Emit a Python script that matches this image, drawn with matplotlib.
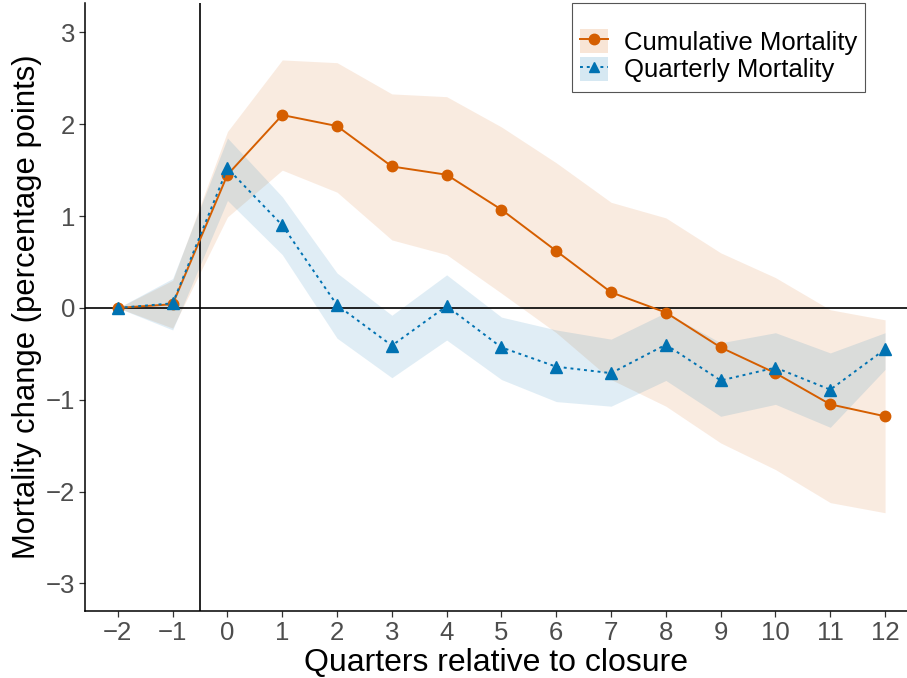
import matplotlib
matplotlib.use("Agg")
import matplotlib.pyplot as plt
from matplotlib.lines import Line2D
from matplotlib.patches import Patch, Rectangle
import numpy as np

plt.rcParams['font.family'] = ['Liberation Sans', 'DejaVu Sans']

# quarters relative to closure
quarters = [-2, -1, 0, 1, 2, 3, 4, 5, 6, 7, 8, 9, 10, 11, 12]

# cumulative mortality estimates and CI
cum_est = [0.0, 0.04, 1.45, 2.10, 1.98, 1.54, 1.45, 1.07, 0.62, 0.17, -0.05, -0.43, -0.71, -1.05, -1.18]
cum_hi = [0.0, 0.30, 1.92, 2.70, 2.67, 2.33, 2.30, 1.97, 1.58, 1.15, 0.98, 0.60, 0.33, -0.02, -0.13]
cum_lo = [0.0, -0.22, 0.99, 1.50, 1.26, 0.74, 0.58, 0.16, -0.27, -0.78, -1.07, -1.47, -1.76, -2.12, -2.23]

# quarterly mortality estimates and CI
qtr_est = [0.0, 0.05, 1.52, 0.90, 0.03, -0.41, 0.02, -0.43, -0.64, -0.71, -0.40, -0.79, -0.65, -0.89, -0.45]
qtr_hi = [0.0, 0.32, 1.85, 1.21, 0.38, -0.08, 0.36, -0.10, -0.24, -0.34, -0.05, -0.38, -0.27, -0.49, -0.27]
qtr_lo = [0.0, -0.24, 1.17, 0.58, -0.33, -0.76, -0.35, -0.78, -1.02, -1.07, -0.79, -1.18, -1.05, -1.30, -0.67]

series_labels = ['Cumulative Mortality', 'Quarterly Mortality']

orange = '#D55E00'
blue = '#0072B2'
band_alpha = 0.12
dotted = (0, (1.5, 2))

fig = plt.figure(figsize=(9.07, 6.78), dpi=100)
ax = fig.add_axes([0.0937, 0.0988, 0.9063, 0.8968])

ax.fill_between(quarters, cum_lo, cum_hi, color=orange, alpha=band_alpha, linewidth=0)
ax.fill_between(quarters, qtr_lo, qtr_hi, color=blue, alpha=band_alpha, linewidth=0)

ax.axhline(0, color='black', lw=1.2, zorder=2)
ax.axvline(-0.5, color='black', lw=1.2, zorder=2)

ax.plot(quarters, cum_est, color=orange, lw=1.4, marker='o', markersize=7.5, zorder=3)
ax.plot(quarters, qtr_est, color=blue, lw=1.4, linestyle=dotted, marker='^',
        markersize=8.5, zorder=4)

ax.set_xlim(-2.6, 12.4)
ax.set_ylim(-3.3, 3.32)
ax.set_xticks(quarters)
ax.set_yticks([-3, -2, -1, 0, 1, 2, 3])

for s in ['top', 'right']:
    ax.spines[s].set_visible(False)
for s in ['left', 'bottom']:
    ax.spines[s].set_linewidth(1.1)
    ax.spines[s].set_color('black')

ax.tick_params(axis='both', labelsize=18.5, labelcolor='#4D4D4D', color='#333333',
               length=4, width=0.9, pad=3)

ax.set_xlabel('Quarters relative to closure', fontsize=23, labelpad=2)
ax.set_ylabel('Mortality change (percentage points)', fontsize=22.3, labelpad=3)

# legend box drawn by hand (ggplot style, extra room on top)
fig.patches.append(Rectangle((572 / 907, 1 - 92 / 678), 293 / 907, 89 / 678,
                             transform=fig.transFigure, facecolor='white',
                             edgecolor='#555555', linewidth=0.8, zorder=5))

handles = [
    (Patch(facecolor=orange, alpha=0.16, edgecolor='none'),
     Line2D([0], [0], color=orange, lw=1.4, marker='o', markersize=7.5)),
    (Patch(facecolor=blue, alpha=0.16, edgecolor='none'),
     Line2D([0], [0], color=blue, lw=1.4, linestyle=dotted, marker='^', markersize=7.5)),
]
leg = fig.legend(handles, series_labels, loc='upper left',
                 bbox_to_anchor=(580 / 907, 1 - 29 / 678), fontsize=18.5,
                 frameon=False, handlelength=1.1, handleheight=1.05,
                 handletextpad=0.6, labelspacing=0.08, borderpad=0, borderaxespad=0)
leg.set_zorder(6)

fig.savefig('out.png', dpi=100)
